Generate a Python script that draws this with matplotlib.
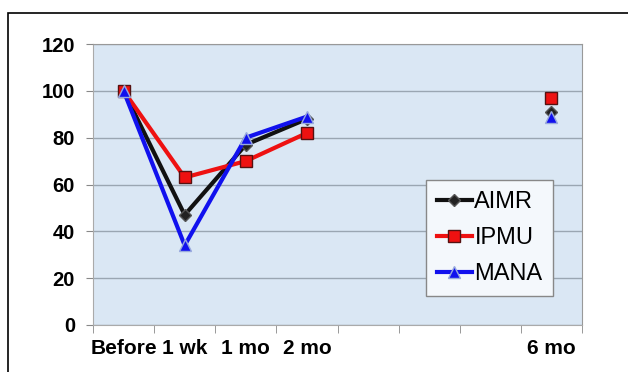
import matplotlib
matplotlib.use("Agg")
import matplotlib.pyplot as plt
from matplotlib.patches import Rectangle
import numpy as np

categories = ["Before", "1 wk", "1 mo", "2 mo", "", "", "", "6 mo"]
aimr = [100, 47, 77, 88, None, None, None, 91]
ipmu = [100, 63, 70, 82, None, None, None, 97]
mana = [100, 34, 80, 89, None, None, None, 89]
yticks = [0, 20, 40, 60, 80, 100, 120]

def arr(v):
    return np.array([np.nan if x is None else x for x in v], dtype=float)

fig = plt.figure(figsize=(6.28, 3.72), dpi=100)
ax = fig.add_axes([93/628, 1-325/372, (582-93)/628, (325-44)/372])
ax.set_facecolor("#dae7f4")

x = np.arange(len(categories))
ax.plot(x, arr(aimr), color="#111111", lw=3, marker="D", ms=6, mfc="#222222", mec="#555555", label="AIMR", zorder=3)
ax.plot(x, arr(ipmu), color="#ee1111", lw=3, marker="s", ms=9, mfc="#ee1111", mec="#551111", label="IPMU", zorder=4)
ax.plot(x, arr(mana), color="#1111ee", lw=3, marker="^", ms=8, mfc="#1111ee", mec="#99aadd", label="MANA", zorder=5)

ax.set_xlim(-0.5, len(categories)-0.5)
ax.set_ylim(0, 120)
ax.set_yticks(yticks)
ax.set_yticklabels([str(t) for t in yticks], fontsize=14.5, fontweight="bold", family="Liberation Sans")
ax.set_xticks(x)
ax.set_xticklabels(categories, fontsize=15, fontweight="bold", family="Liberation Sans")
ax.set_xticks(np.arange(-0.5, len(categories), 1), minor=True)
ax.tick_params(axis="x", which="major", length=0, pad=10)
ax.tick_params(axis="x", which="minor", length=6, color="#888888", direction="out")
ax.tick_params(axis="y", length=5, color="#888888", pad=8)
ax.grid(axis="y", color="#9aa6b2", lw=1)
ax.set_axisbelow(True)
for s in ["top", "right"]:
    ax.spines[s].set_color("#999999")
for s in ["left", "bottom"]:
    ax.spines[s].set_color("#aaaaaa")

leg = ax.legend(loc="lower left", bbox_to_anchor=((426-93)/489, (325-296)/281),
                prop={"family": "Liberation Sans", "size": 17}, handlelength=1.5, handletextpad=0.1,
                borderpad=0.45, labelspacing=0.6, borderaxespad=0, fancybox=False, framealpha=1,
                edgecolor="#888888")
leg.get_frame().set_facecolor("#f4f8fc")

fig.patches.append(Rectangle((8/628, -0.1), 1.2, 1-13/372+0.1, transform=fig.transFigure,
                             fill=False, edgecolor="black", lw=1.2))
fig.savefig("out.png", dpi=100)
